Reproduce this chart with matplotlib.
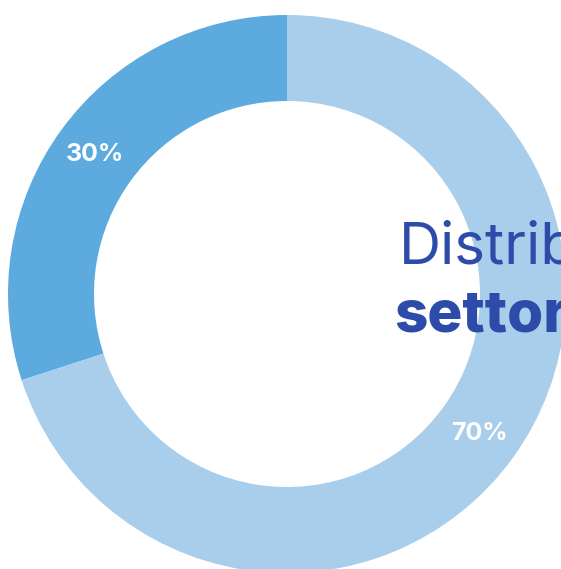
import matplotlib
matplotlib.use("Agg")
import matplotlib.pyplot as plt

# share of the two sectors
labels = ["Settore A", "Settore B"]
shares = [30, 70]
slice_colors = ["#5DAADF", "#A9CEEB"]

title_line1 = "Distribuzione"
title_line2 = "settore"

plt.rcParams["font.family"] = ["Inter", "DejaVu Sans"]

W, H = 561, 569
fig = plt.figure(figsize=(W / 100, H / 100), dpi=100)
ax = fig.add_axes([0, 0, 1, 1])

cx, cy = 287, H - 294
R = 279
ring = 86

wedges, texts, autotexts = ax.pie(
    shares,
    colors=slice_colors,
    startangle=90,
    counterclock=True,
    radius=R,
    center=(cx, cy),
    autopct="%d%%",
    pctdistance=0.853,
    wedgeprops=dict(width=ring, linewidth=0),
    textprops=dict(color="white", fontsize=18, fontweight="bold"),
)

ax.set_xlim(0, W)
ax.set_ylim(0, H)
ax.set_aspect("equal")
ax.axis("off")

navy = "#2D4BA8"
ax.text(399, H - 263, title_line1, color=navy, fontsize=42,
        ha="left", va="baseline")
ax.text(394, H - 332, title_line2, color=navy, fontsize=42,
        fontweight="heavy", ha="left", va="baseline")

fig.savefig("out.png", dpi=100, facecolor="white")
